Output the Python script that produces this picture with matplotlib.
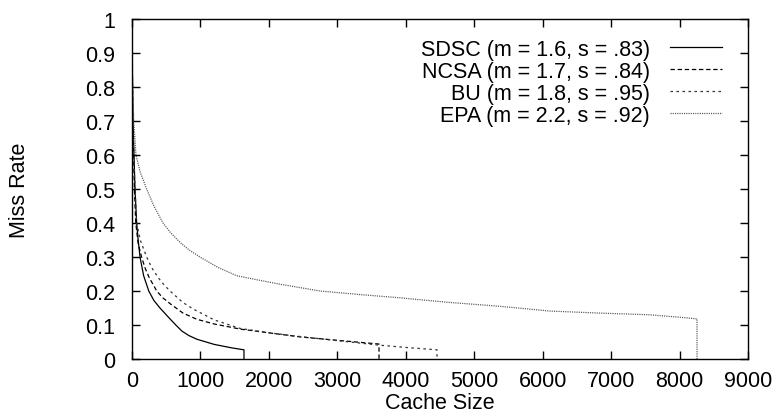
import matplotlib
matplotlib.use("Agg")
import matplotlib.pyplot as plt

# ---- data ----
sdsc_x = [0, 5, 12, 29, 44, 68, 90, 117, 170, 245, 320, 409, 555, 640, 730, 830, 950, 1200, 1450, 1636, 1636]
sdsc_y = [1.0, 0.85, 0.72, 0.6, 0.5, 0.4, 0.35, 0.3, 0.245, 0.2, 0.172, 0.15, 0.118, 0.1, 0.082, 0.069, 0.058, 0.043, 0.033, 0.027, 0.0]

ncsa_x = [0, 5, 12, 25, 35, 55, 90, 140, 190, 250, 361, 450, 555, 745, 945, 1200, 1432, 1578, 2000, 2455, 3000, 3609, 3609]
ncsa_y = [1.0, 0.85, 0.7, 0.6, 0.5, 0.4, 0.34, 0.3, 0.268, 0.24, 0.2, 0.18, 0.163, 0.135, 0.117, 0.103, 0.094, 0.088, 0.077, 0.065, 0.055, 0.044, 0.0]

bu_x = [0, 5, 12, 25, 45, 68, 120, 214, 290, 380, 460, 555, 745, 895, 1200, 1578, 2000, 2500, 3000, 3600, 4000, 4456, 4456]
bu_y = [1.0, 0.85, 0.7, 0.6, 0.5, 0.4, 0.35, 0.3, 0.268, 0.24, 0.22, 0.2, 0.166, 0.147, 0.115, 0.09, 0.077, 0.065, 0.054, 0.041, 0.034, 0.027, 0.0]

epa_x = [0, 4, 10, 25, 58, 120, 214, 320, 453, 570, 701, 840, 993, 1250, 1529, 1850, 2162, 2747, 3300, 3915, 4600, 5376, 6107, 6838, 7568, 8050, 8255, 8255]
epa_y = [1.0, 0.9, 0.8, 0.7, 0.6, 0.55, 0.5, 0.45, 0.4, 0.37, 0.343, 0.32, 0.3, 0.27, 0.245, 0.232, 0.22, 0.2, 0.19, 0.18, 0.167, 0.155, 0.141, 0.135, 0.13, 0.122, 0.118, 0.0]

labels = ["SDSC (m = 1.6, s = .83)", "NCSA (m = 1.7, s = .84)",
          "BU (m = 1.8, s = .95)", "EPA (m = 2.2, s = .92)"]

x_ticks = [0, 1000, 2000, 3000, 4000, 5000, 6000, 7000, 8000, 9000]
y_ticks = [0, 0.1, 0.2, 0.3, 0.4, 0.5, 0.6, 0.7, 0.8, 0.9, 1]
y_ticklabels = ["0", "0.1", "0.2", "0.3", "0.4", "0.5", "0.6", "0.7", "0.8", "0.9", "1"]

plt.rcParams['font.family'] = ['Liberation Sans', 'DejaVu Sans']
FS = 15.5

fig = plt.figure(figsize=(7.82, 4.14), dpi=100)
ax = fig.add_axes([132/782, 54/414, 616/782, 340/414])

ax.plot(sdsc_x, sdsc_y, color='black', lw=0.9, linestyle='-', label=labels[0])
ax.plot(ncsa_x, ncsa_y, color='black', lw=0.9, linestyle=(0, (3.5, 2.2)), label=labels[1])
ax.plot(bu_x, bu_y, color='#333333', lw=0.9, linestyle=(0, (2.0, 2.8)), label=labels[2])
ax.plot(epa_x, epa_y, color='#555555', lw=0.9, linestyle=(0, (0.9, 0.9)), label=labels[3])

ax.set_xlim(0, 9000)
ax.set_ylim(0, 1)
ax.set_xticks(x_ticks)
ax.set_xticklabels([str(v) for v in x_ticks])
ax.set_yticks(y_ticks)
ax.set_yticklabels(y_ticklabels)
ax.tick_params(direction='in', length=6, width=1, top=True, right=True,
               labelsize=FS)
ax.tick_params(axis='y', pad=12)
ax.tick_params(axis='x', pad=8)
for s in ax.spines.values():
    s.set_linewidth(1.0)

ax.set_xlabel("Cache Size", fontsize=FS, labelpad=0.5)
ax.set_ylabel("Miss Rate", fontsize=FS, labelpad=40)

leg = ax.legend(loc='upper right', frameon=False, markerfirst=False, fontsize=FS,
                handlelength=2.42, handletextpad=0.93, labelspacing=0.04,
                borderaxespad=0.0, borderpad=0.0)
leg.set_bbox_to_anchor(((722 - 132) / 616, 1 - (40 - 20) / 340), transform=ax.transAxes)

fig.savefig("out.png", dpi=100)
